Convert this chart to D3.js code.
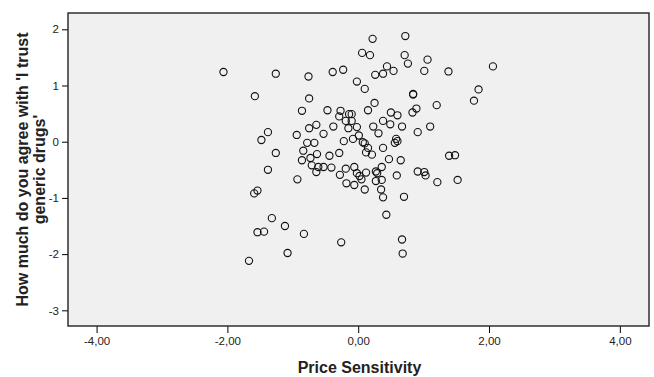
<!DOCTYPE html>
<html>
<head>
<meta charset="utf-8">
<script src="https://cdn.jsdelivr.net/npm/d3@7"></script>
<style>
  html, body { margin: 0; padding: 0; background: #ffffff; }
  svg { display: block; font-family: "Liberation Sans", Arial, sans-serif; }
</style>
</head>
<body>
<svg id="chart" width="654" height="377"></svg>
<script>
// ---- Data ----
const priceSensitivity = [
  -2.06, -1.26, -0.76, -1.58, -0.75, -0.86,
  -1.38, -1.48, -1.26, -1.38, -1.54, -1.59, -0.94, -0.75, -0.64, -0.78, -0.67, -0.84, -0.63, -0.86, -0.73, -0.71, -0.61, -0.64, -0.93,
  -1.32, -1.12, -0.83, -1.54, -1.44, -1.08, -1.67,
  0.22, 0.72, 0.06, 0.18, 0.71, 0.76, 1.06, -0.39, -0.23, 0.26, 0.38, 0.44, 0.54, 1.01, -0.02, 0.10, 0.84, 0.84,
  0.25, 0.15, -0.47, -0.27, -0.29, -0.14, -0.10, -0.19, -0.10, 0.50, 0.60, 0.89, 0.83, 1.20, 0.38, 0.49, -0.38, 0.23, 0.67, 1.10, -0.02, -0.15,
  -0.53, 0.31, 0.91, -0.22, -0.08, 0.01, 0.07, 0.10, 0.15, 0.12, 0.21, 0.38, 0.58, 0.60, 0.56, -0.44, -0.29, 0.47, 0.65,
  -0.53, -0.41, -0.19, -0.06, -0.02, 0.02, 0.05, 0.12, -0.28, 0.27, 0.29, 0.36, 0.27, 0.36, 0.59, 0.91, 1.01, 1.03, 1.21,
  -0.18, -0.06, 0.10, 0.35, 0.38, 0.70,
  0.43, -0.26, 0.67, 0.68,
  1.38, 2.06, 1.84, 1.77, 1.39, 1.48, 1.52
];
const trustGenericDrugs = [
  1.24, 1.21, 1.16, 0.81, 0.77, 0.55,
  0.17, 0.03, -0.20, -0.50, -0.87, -0.92, 0.12, 0.24, 0.30, -0.02, -0.02, -0.16, -0.22, -0.33, -0.29, -0.42, -0.45, -0.54, -0.67,
  -1.36, -1.50, -1.64, -1.61, -1.60, -1.98, -2.12,
  1.83, 1.88, 1.58, 1.54, 1.54, 1.39, 1.46, 1.24, 1.28, 1.19, 1.21, 1.34, 1.26, 1.26, 1.07, 0.94, 0.85, 0.84,
  0.69, 0.56, 0.56, 0.55, 0.45, 0.49, 0.49, 0.37, 0.37, 0.52, 0.47, 0.59, 0.52, 0.65, 0.37, 0.31, 0.27, 0.27, 0.27, 0.27, 0.26, 0.24,
  0.14, 0.15, 0.17, 0.01, 0.05, 0.11, -0.01, -0.03, -0.11, -0.19, -0.23, -0.11, 0.05, 0.01, -0.02, -0.25, -0.20, -0.31, -0.33,
  -0.45, -0.46, -0.48, -0.45, -0.56, -0.61, -0.67, -0.55, -0.59, -0.53, -0.56, -0.45, -0.70, -0.68, -0.60, -0.53, -0.54, -0.60, -0.72,
  -0.74, -0.77, -0.85, -0.85, -0.99, -0.98,
  -1.30, -1.79, -1.74, -1.99,
  1.25, 1.34, 0.93, 0.73, -0.25, -0.24, -0.68
];
const xTickValues = [-4, -2, 0, 2, 4];
const xTickLabels = ["-4,00", "-2,00", "0,00", "2,00", "4,00"];
const yTickValues = [-3, -2, -1, 0, 1, 2];
const yTickLabels = ["-3", "-2", "-1", "0", "1", "2"];
const xTitle = "Price Sensitivity";
const yTitleLines = ["How much do you agree with 'I trust", "generic drugs'"];

// ---- Layout ----
const frame = { left: 68, right: 649, top: 13, bottom: 326 };
const svg = d3.select("#chart");

const x = d3.scaleLinear().domain([-4.437, 4.446]).range([frame.left, frame.right]);
const y = d3.scaleLinear().domain([-3.279, 2.29]).range([frame.bottom, frame.top]);

const points = priceSensitivity.map((v, i) => ({ x: v, y: trustGenericDrugs[i] }));

// plot background
svg.append("rect")
  .attr("x", frame.left).attr("y", frame.top)
  .attr("width", frame.right - frame.left).attr("height", frame.bottom - frame.top)
  .attr("fill", "#f0f0f0");

// x axis
const xAxis = d3.axisBottom(x)
  .tickValues(xTickValues)
  .tickFormat((d, i) => xTickLabels[i])
  .tickSizeInner(7).tickSizeOuter(0).tickPadding(4);
const gx = svg.append("g").attr("transform", `translate(0,${frame.bottom})`).call(xAxis);
gx.select(".domain").remove();
gx.selectAll(".tick line").attr("stroke", "#000").attr("stroke-width", 1);
gx.selectAll(".tick text").attr("fill", "#222").style("font-size", "11.5px")
  .style("font-family", "'Liberation Sans', Arial, sans-serif");

// y axis
const yAxis = d3.axisLeft(y)
  .tickValues(yTickValues)
  .tickFormat((d, i) => yTickLabels[i])
  .tickSizeInner(6).tickSizeOuter(0).tickPadding(3);
const gy = svg.append("g").attr("transform", `translate(${frame.left},0)`).call(yAxis);
gy.select(".domain").remove();
gy.selectAll(".tick line").attr("stroke", "#000").attr("stroke-width", 1);
gy.selectAll(".tick text").attr("fill", "#222").style("font-size", "11.5px")
  .style("font-family", "'Liberation Sans', Arial, sans-serif");

// points
svg.append("g")
  .selectAll("circle")
  .data(points)
  .join("circle")
  .attr("cx", d => x(d.x))
  .attr("cy", d => y(d.y))
  .attr("r", 3.6)
  .attr("fill", "none")
  .attr("stroke", "#111")
  .attr("stroke-width", 1.1);

// frame
svg.append("rect")
  .attr("x", frame.left).attr("y", frame.top)
  .attr("width", frame.right - frame.left).attr("height", frame.bottom - frame.top)
  .attr("fill", "none")
  .attr("stroke", "#222")
  .attr("stroke-width", 1.4);

// x title
svg.append("text")
  .attr("x", 359.5).attr("y", 373)
  .attr("text-anchor", "middle")
  .attr("fill", "#222")
  .style("font-size", "16px").style("font-weight", "bold")
  .text(xTitle);

// y title (two lines, rotated)
const cy = (frame.top + frame.bottom) / 2;
const yt = svg.append("text")
  .attr("transform", `translate(0,${cy}) rotate(-90)`)
  .attr("text-anchor", "middle")
  .attr("fill", "#222")
  .style("font-size", "16px").style("font-weight", "bold");
yt.selectAll("tspan")
  .data(yTitleLines)
  .join("tspan")
  .attr("x", 0)
  .attr("y", (d, i) => [28, 44.5][i])
  .text(d => d);
</script>
</body>
</html>
